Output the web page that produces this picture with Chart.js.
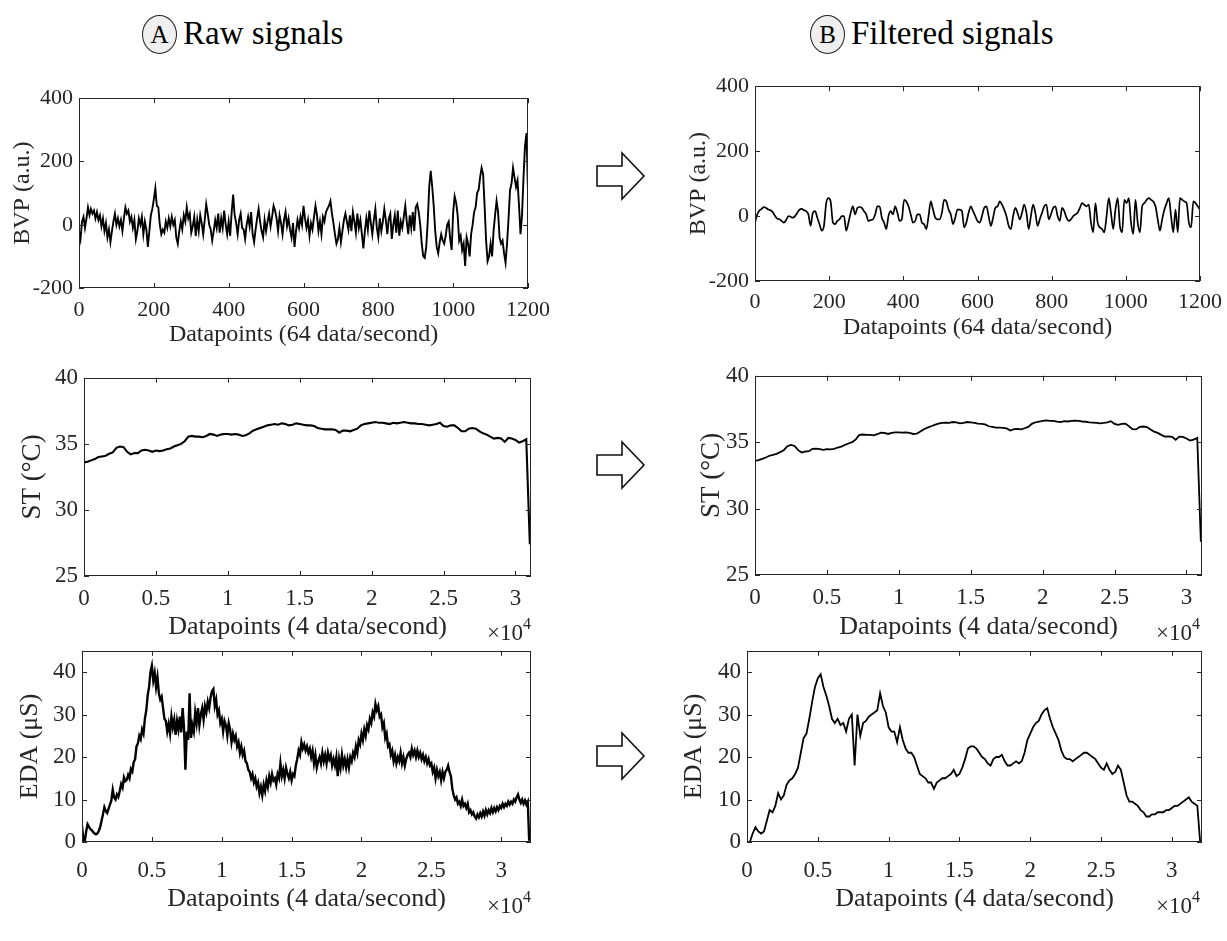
<!DOCTYPE html>
<html>
<head>
<meta charset="utf-8">
<script src="https://cdn.jsdelivr.net/npm/chart.js@4.4.0/dist/chart.umd.min.js"></script>
<style>
  body { margin: 0; background: #fff; width: 1227px; height: 941px; position: relative; overflow: hidden;
         font-family: "Liberation Serif", "Times New Roman", serif; color: #000; }
  canvas { position: absolute; }
  .head { position: absolute; font-size: 33px; line-height: 40px; white-space: nowrap; }
  .badge { display: inline-block; width: 33px; height: 37px; border: 1.5px solid #222; border-radius: 50%;
           background: #efefef; font-size: 25px; line-height: 37px; text-align: center; vertical-align: 1px;
           margin-right: 6px; }
  .mult { position: absolute; font-size: 23px; color: #262626; white-space: nowrap; }
  .mult sup { font-size: 16px; position: relative; top: -2px; }
  svg.arrow { position: absolute; }
</style>
</head>
<body>
<div class="head" style="left:142px; top:13px;"><span class="badge">A</span>Raw signals</div>
<div class="head" style="left:810px; top:13px;"><span class="badge">B</span>Filtered signals</div>

<svg class="arrow" style="left:594px; top:150px" width="56" height="54"><path d="M3 16 H28 V3 L50 26 L28 49 V36 H3 Z" fill="#fff" stroke="#111" stroke-width="1.6"/></svg>
<svg class="arrow" style="left:594px; top:439px" width="56" height="54"><path d="M3 16 H28 V3 L50 26 L28 49 V36 H3 Z" fill="#fff" stroke="#111" stroke-width="1.6"/></svg>
<svg class="arrow" style="left:594px; top:730px" width="56" height="54"><path d="M3 16 H28 V3 L50 26 L28 49 V36 H3 Z" fill="#fff" stroke="#111" stroke-width="1.6"/></svg>

<canvas id="bvpA"></canvas>
<canvas id="bvpB"></canvas>
<canvas id="stA"></canvas>
<canvas id="stB"></canvas>
<canvas id="edaA"></canvas>
<canvas id="edaB"></canvas>

<div class="mult" style="left:487px; top:617px;">&times;10<sup>4</sup></div>
<div class="mult" style="left:487px; top:890px;">&times;10<sup>4</sup></div>
<div class="mult" style="left:1156px; top:617px;">&times;10<sup>4</sup></div>
<div class="mult" style="left:1156px; top:890px;">&times;10<sup>4</sup></div>

<script>
// BVP raw, 64 Hz, one value every 4 datapoints (0 .. 1200)
const bvpRawStep = 4;
const bvpRaw = [
  -20, -45, 10, 25, -10, 20, 55, 30, 50, 35,
  45, 20, 40, 15, 30, -5, 20, -20, 5, -40,
  -15, -55, -20, 10, 35, 0, 20, -5, 15, -20,
  20, 55, 35, 45, 10, 25, -10, 15, -45, -20,
  20, 0, 25, -30, 10, -15, -70, -20, 30, 50,
  80, 115, 60, 55, 0, -30, -15, -25, 10, -10,
  20, -5, 25, 0, 15, -40, -60, -20, 10, -15,
  30, 10, 55, 20, 35, -25, -5, 25, -35, 15,
  -20, 30, 5, -30, 15, 65, 35, 0, -15, -50,
  -20, 15, -10, 35, -25, 20, -10, 45, 0, -30,
  10, -35, 40, 95, 30, 5, -30, 15, 35, -10,
  -15, -45, 0, 25, -5, 40, -30, -55, -15, 20,
  50, 10, -20, -40, 15, -20, 10, 35, -5, 25,
  60, 45, 20, -20, 30, 5, -30, 15, 40, -5,
  20, -15, -40, 5, -70, -20, 15, -10, 25, 0,
  60, 20, -10, 15, -35, 5, -15, 25, 60, 30,
  -20, 10, -30, 25, 10, 40, 50, 60, 75, 35,
  5, -30, -60, -45, -10, -55, -20, 15, 35, 10,
  -15, 30, -20, 40, 10, -25, 35, -10, 15, -30,
  -75, -20, 20, -15, 45, 5, -30, 15, 50, -10,
  -40, 20, -20, 10, 50, 15, -30, 20, 35, -45,
  0, 30, -25, 45, -35, 10, -10, 25, 60, 10,
  -30, 30, -10, 40, -20, 55, 65, 40, 0, -60,
  -100, -105, -70, 10, 120, 170, 120, 60, -20, -70,
  -90, -55, -30, -50, -60, -35, 0, 10, -45, -80,
  40, 90, 70, 30, -50, -35, -80, -60, -130, -40,
  -60, -100, -30, 0, 40, 55, 100, 110, 150, 180,
  160, 60, -50, -115, -100, -60, -100, -20, 30, 75,
  40, -40, -60, -50, -90, -120, -60, 20, 110, 130,
  180, 150, 120, 140, 60, -30, 30, 150, 250, 290,
  100
];
// BVP filtered, one value every 6 datapoints (0 .. 1200)
const bvpFiltStep = 6;
const bvpFiltered = [
  -20, 5, 17, 22, 28, 25, 20, 18, 12, 0,
  -8, -10, -15, -20, -12, 0, -2, -5, 0, 10,
  20, 22, 18, 15, 5, -30, 10, 15, -5, -25,
  -45, -30, 40, 55, 45, -20, -25, -15, -10, 0,
  0, -45, -20, 10, 30, 5, 25, 28, 25, 15,
  5, -15, -12, -10, 5, 30, 30, -5, -20, -40,
  0, 15, 5, 30, 10, -15, -10, 50, 45, 30,
  5, -20, -15, 5, 5, -20, -25, -40, 0, 45,
  20, -5, -10, -10, 10, 50, 45, 20, 5, -25,
  -5, 20, 20, 15, -35, -20, 10, 30, 15, 0,
  -15, -20, 0, 25, 30, 0, -30, -5, 25, 30,
  45, 35, 20, 0, -30, -40, 0, 25, 10, -10,
  10, 35, 10, -40, 0, 35, 10, -30, -10, 10,
  30, 35, -10, 5, 25, 30, 0, -15, 25, 15,
  -5, -15, -10, 0, 5, 10, 25, 40, 35, 30,
  35, -20, -50, 40, -20, -35, -40, -50, 0, 55,
  10, -40, 20, 55, -30, -50, 50, 40, 55, -20,
  -55, 50, -20, -50, 30, 40, 50, 55, 50, 45,
  30, -10, -45, -10, 20, 40, 55, 0, -50, 20,
  -50, 55, 50, 45, 40, -20, -35, 45, 40, 30,
  20
];
const bvpXTicks = [0, 200, 400, 600, 800, 1000, 1200];
const bvpYTicks = [-200, 0, 200, 400];

// Skin temperature, 4 Hz, one value every 250 datapoints (0 .. 31000)
const stStep = 250;
const stRaw = [
  33.6, 33.65, 33.75, 33.85, 34.0, 34.05, 34.1, 34.25, 34.35, 34.7,
  34.8, 34.75, 34.4, 34.2, 34.3, 34.3, 34.5, 34.55, 34.5, 34.4,
  34.5, 34.45, 34.5, 34.6, 34.65, 34.8, 34.9, 35.0, 35.2, 35.55,
  35.6, 35.55, 35.55, 35.5, 35.6, 35.75, 35.7, 35.6, 35.7, 35.75,
  35.75, 35.7, 35.75, 35.7, 35.6, 35.65, 35.8, 36.0, 36.1, 36.2,
  36.3, 36.4, 36.45, 36.5, 36.45, 36.55, 36.5, 36.4, 36.45, 36.55,
  36.5, 36.45, 36.4, 36.4, 36.35, 36.2, 36.15, 36.1, 36.1, 36.1,
  36.05, 35.85, 36.0, 36.0, 35.95, 36.05, 36.15, 36.4, 36.5, 36.55,
  36.6, 36.65, 36.6, 36.6, 36.55, 36.5, 36.6, 36.55, 36.6, 36.65,
  36.6, 36.55, 36.55, 36.5, 36.5, 36.45, 36.4, 36.45, 36.5, 36.6,
  36.35, 36.3, 36.4, 36.4, 36.2, 35.95, 35.95, 36.15, 36.2, 36.15,
  35.95, 35.8, 35.7, 35.55, 35.4, 35.45, 35.4, 35.15, 35.45, 35.4,
  35.3, 35.1, 35.2, 35.35, 27.4
];
const stFiltered = [
  33.6, 33.65, 33.75, 33.85, 33.98, 34.05, 34.12, 34.25, 34.4, 34.7,
  34.8, 34.72, 34.4, 34.22, 34.3, 34.32, 34.5, 34.52, 34.48, 34.42,
  34.48, 34.46, 34.5, 34.6, 34.66, 34.8, 34.9, 35.0, 35.2, 35.55,
  35.58, 35.55, 35.55, 35.52, 35.6, 35.72, 35.7, 35.62, 35.7, 35.74,
  35.74, 35.72, 35.74, 35.7, 35.62, 35.65, 35.8, 35.98, 36.1, 36.2,
  36.3, 36.4, 36.45, 36.48, 36.45, 36.52, 36.5, 36.42, 36.45, 36.52,
  36.5, 36.45, 36.4, 36.38, 36.34, 36.2, 36.15, 36.1, 36.1, 36.08,
  36.04, 35.88, 35.98, 36.0, 35.96, 36.05, 36.15, 36.38, 36.5, 36.55,
  36.6, 36.64, 36.6, 36.6, 36.55, 36.52, 36.58, 36.56, 36.6, 36.62,
  36.6, 36.56, 36.54, 36.5, 36.48, 36.45, 36.42, 36.45, 36.5, 36.58,
  36.38, 36.3, 36.38, 36.4, 36.2, 35.98, 35.96, 36.15, 36.18, 36.14,
  35.95, 35.8, 35.7, 35.55, 35.42, 35.44, 35.4, 35.18, 35.42, 35.4,
  35.28, 35.12, 35.2, 35.32, 27.5
];
const stXTicks = [0, 5000, 10000, 15000, 20000, 25000, 30000];
const stYTicks = [25, 30, 35, 40];

// EDA raw, 4 Hz, one value every 100 datapoints (0 .. 32000)
const edaRawStep = 100;
const edaRaw = [
  3.8, 0.5, 0.2, 2.5, 4.2, 3.6, 3.0, 2.8, 2.3, 2.0,
  1.8, 2.0, 2.6, 3.5, 5.0, 6.5, 8.2, 7.3, 6.8, 7.8,
  8.8, 9.8, 12.3, 10.5, 10.0, 11.2, 10.6, 12.0, 13.6, 12.8,
  15.2, 14.3, 14.6, 15.8, 15.0, 17.2, 16.6, 18.8, 19.5, 22.5,
  23.2, 25.0, 24.2, 26.5, 25.5, 29.0, 31.0, 34.5, 36.5, 40.0,
  41.5, 38.0, 39.8, 36.5, 38.8, 35.0, 33.5, 34.2, 31.5, 29.0,
  28.5, 26.0, 27.8, 25.5, 29.5, 27.0, 28.8, 25.2, 28.5, 26.5,
  29.5, 25.8, 31.5, 27.0, 17.0, 26.0, 24.0, 35.0, 24.5, 27.5,
  26.0, 30.5, 28.0, 31.5, 27.5, 30.0, 31.5, 28.8, 32.0, 30.5,
  33.0, 31.5, 34.0, 35.5, 36.0, 32.0, 33.5, 30.0, 31.0, 28.0,
  29.0, 26.0, 28.5, 27.5, 25.0, 28.0, 26.5, 23.5, 25.5, 24.0,
  25.0, 22.5, 23.5, 21.0, 22.5, 20.5, 21.5, 19.0, 18.5, 17.0,
  16.5, 15.0, 16.0, 14.0, 15.0, 13.0, 14.0, 11.5, 13.0, 11.0,
  13.5, 12.0, 14.5, 13.0, 15.5, 14.0, 16.0, 14.5, 15.0, 13.5,
  16.0, 15.0, 18.5, 15.5, 17.0, 15.0, 17.5, 16.0, 15.0, 16.5,
  14.5, 16.0, 15.5, 18.0, 19.5, 21.5, 20.5, 23.5, 22.0, 23.0,
  21.5, 22.5, 21.0, 22.0, 20.0, 21.5, 18.5, 20.5, 17.5, 19.0,
  20.0, 18.5, 21.0, 19.0, 20.5, 18.5, 21.0, 19.5, 20.5, 18.0,
  19.5, 18.0, 20.0, 15.5, 19.5, 17.5, 20.5, 18.0, 19.5, 17.5,
  19.5, 17.5, 20.0, 19.0, 21.0, 20.0, 22.5, 21.0, 24.0, 23.0,
  25.5, 24.0, 26.5, 25.0, 27.5, 26.5, 29.0, 28.0, 30.5, 29.5,
  32.5, 31.0, 32.0, 29.5, 30.0, 27.0, 28.0, 24.5, 25.5, 22.5,
  23.0, 20.5, 21.5, 19.0, 20.5, 18.5, 20.0, 19.0, 21.0, 18.5,
  20.0, 18.0, 19.5, 20.5, 21.0, 20.0, 22.0, 20.5, 21.5, 20.0,
  21.5, 20.0, 21.0, 19.5, 20.5, 19.0, 20.0, 18.5, 19.5, 18.0,
  18.5, 16.5, 17.5, 15.0, 17.0, 15.5, 16.5, 14.5, 16.5, 15.0,
  16.5, 17.0, 18.0, 16.5, 15.5, 12.5, 11.0, 10.0, 10.5, 9.0,
  9.5, 8.5, 10.0, 8.5, 9.0, 8.0, 9.0, 7.0, 7.5, 6.5,
  7.0, 6.0, 5.5, 6.5, 5.8, 6.8, 6.0, 7.2, 6.2, 7.5,
  6.5, 7.5, 6.8, 8.0, 7.0, 8.0, 7.2, 8.2, 7.5, 8.5,
  8.0, 9.0, 8.2, 9.0, 8.5, 9.5, 8.8, 9.5, 9.0, 10.0,
  9.5, 10.5, 11.2, 10.0, 9.2, 10.0, 9.0, 9.8, 8.8, 9.5,
  0.3
];
// EDA filtered, one value every 200 datapoints (0 .. 32000)
const edaFiltStep = 200;
const edaFiltered = [
  0, 0, 2, 3.5, 2.5, 2.0, 2.5, 5.0, 7.5, 7.0,
  8.5, 11.5, 10.0, 11.0, 13.5, 14.5, 15.0, 16.0, 17.5, 21.0,
  24.5, 25.5, 29.0, 33.0, 36.5, 38.5, 39.5, 36.5, 34.5, 32.0,
  29.0, 28.0, 29.0, 27.5, 28.0, 26.0, 29.0, 30.0, 18.0, 30.0,
  25.0, 28.0, 28.5, 29.5, 30.0, 30.5, 31.0, 35.0, 32.0, 30.5,
  27.0, 26.0, 26.0, 23.5, 27.0, 24.0, 22.0, 21.0, 21.0, 20.0,
  18.0, 16.0, 15.5, 15.0, 14.0, 14.0, 12.5, 14.0, 14.5, 15.0,
  15.0, 15.5, 16.0, 17.0, 15.5, 16.0, 17.5, 19.5, 22.0, 22.5,
  22.5, 22.0, 21.0, 20.0, 19.5, 18.5, 18.0, 19.5, 20.0, 20.0,
  20.5, 19.0, 18.0, 18.0, 18.5, 19.0, 18.5, 19.0, 21.0, 24.0,
  25.5, 27.0, 28.0, 28.5, 30.0, 31.0, 31.5, 29.0, 27.0, 25.5,
  24.0, 21.5, 20.0, 19.5, 19.5, 19.0, 19.5, 20.0, 20.5, 21.0,
  21.0, 20.5, 20.0, 19.5, 18.5, 17.5, 17.0, 18.5, 17.0, 16.0,
  16.5, 18.0, 17.0, 14.0, 11.0, 9.5, 9.5, 9.0, 8.5, 7.5,
  7.0, 6.0, 6.0, 6.5, 6.5, 7.0, 7.0, 7.0, 7.5, 7.5,
  8.0, 8.5, 8.5, 9.0, 9.5, 10.0, 10.5, 9.5, 9.0, 8.5,
  0
];
const edaXTicks = [0, 5000, 10000, 15000, 20000, 25000, 30000];
const edaYTicks = [0, 10, 20, 30, 40];

Chart.defaults.font.family = "'Liberation Serif', 'Times New Roman', serif";
Chart.defaults.color = "#262626";

// box around the plot area with short inward ticks on all four sides
const matlabFrame = {
  id: "matlabFrame",
  afterDatasetsDraw(chart) {
    const { ctx, chartArea: a, scales } = chart;
    const len = 5;
    ctx.save();
    ctx.strokeStyle = "#262626";
    ctx.lineWidth = 1;
    ctx.beginPath();
    scales.x.ticks.forEach(t => {
      const px = Math.round(scales.x.getPixelForValue(t.value)) + 0.5;
      ctx.moveTo(px, a.bottom); ctx.lineTo(px, a.bottom - len);
      ctx.moveTo(px, a.top); ctx.lineTo(px, a.top + len);
    });
    scales.y.ticks.forEach(t => {
      const py = Math.round(scales.y.getPixelForValue(t.value)) + 0.5;
      ctx.moveTo(a.left, py); ctx.lineTo(a.left + len, py);
      ctx.moveTo(a.right, py); ctx.lineTo(a.right - len, py);
    });
    ctx.stroke();
    ctx.strokeRect(Math.round(a.left) + 0.5, Math.round(a.top) + 0.5,
                   Math.round(a.width) - 1, Math.round(a.height) - 1);
    ctx.restore();
  }
};

function makePanel(id, p) {
  const padTop = 15, padRight = 34;
  const canvas = document.getElementById(id);
  const w = (p.right - p.left) + p.yW + padRight;
  const h = (p.bottom - p.top) + padTop + p.xH;
  canvas.width = w; canvas.height = h;
  canvas.style.left = (p.left - p.yW) + "px";
  canvas.style.top = (p.top - padTop) + "px";
  canvas.style.width = w + "px"; canvas.style.height = h + "px";

  const pts = p.values.map((v, i) => ({ x: i * p.step, y: v }));
  new Chart(canvas.getContext("2d"), {
    type: "line",
    data: {
      datasets: [{
        data: pts,
        borderColor: "#000",
        borderWidth: p.lineWidth,
        pointRadius: 0,
        tension: p.smooth ? 0.4 : 0,
        cubicInterpolationMode: p.smooth ? "monotone" : "default",
        fill: false
      }]
    },
    options: {
      responsive: false,
      animation: false,
      devicePixelRatio: 1,
      layout: { padding: { top: padTop, right: padRight, left: 0, bottom: 0 } },
      plugins: { legend: { display: false }, tooltip: { enabled: false } },
      scales: {
        x: {
          type: "linear",
          min: p.xMin, max: p.xMax,
          afterBuildTicks: s => { s.ticks = p.xTicks.map(v => ({ value: v })); },
          afterFit: s => { s.height = p.xH; },
          grid: { display: false, drawTicks: false },
          border: { display: false },
          ticks: {
            padding: p.xPad,
            maxRotation: 0,
            autoSkip: false,
            font: { size: p.tickSize },
            callback: p.xFormat || (v => String(v))
          },
          title: { display: true, text: p.xTitle, padding: 0, font: { size: p.xTitleSize } }
        },
        y: {
          type: "linear",
          min: p.yMin, max: p.yMax,
          afterBuildTicks: s => { s.ticks = p.yTicks.map(v => ({ value: v })); },
          afterFit: s => { s.width = p.yW; },
          grid: { display: false, drawTicks: false },
          border: { display: false },
          ticks: { padding: 6, font: { size: p.tickSize }, callback: v => String(v) },
          title: { display: true, text: p.yTitle, padding: 0, font: { size: p.yTitleSize } }
        }
      }
    },
    plugins: [matlabFrame]
  });
}

const tenThousands = v => String(v / 10000);

makePanel("bvpA", {
  left: 79, right: 528, top: 94, bottom: 288, yW: 71, xH: 61, xPad: 9,
  values: bvpRaw, step: bvpRawStep, lineWidth: 1.9,
  xMin: 0, xMax: 1200, yMin: -200, yMax: 400, xTicks: bvpXTicks, yTicks: bvpYTicks,
  tickSize: 22, xTitle: "Datapoints (64 data/second)", xTitleSize: 24,
  yTitle: "BVP (a.u.)", yTitleSize: 24
});
makePanel("bvpB", {
  left: 755, right: 1200, top: 82, bottom: 281, yW: 71, xH: 61, xPad: 8,
  values: bvpFiltered, step: bvpFiltStep, lineWidth: 1.7, smooth: true,
  xMin: 0, xMax: 1200, yMin: -200, yMax: 400, xTicks: bvpXTicks, yTicks: bvpYTicks,
  tickSize: 22, xTitle: "Datapoints (64 data/second)", xTitleSize: 24,
  yTitle: "BVP (a.u.)", yTitleSize: 24
});
makePanel("stA", {
  left: 84, right: 531, top: 373, bottom: 576, yW: 67, xH: 67, xPad: 9,
  values: stRaw, step: stStep, lineWidth: 2.1,
  xMin: 0, xMax: 31080, yMin: 25, yMax: 40, xTicks: stXTicks, yTicks: stYTicks,
  tickSize: 23, xTitle: "Datapoints (4 data/second)", xTitleSize: 26, xFormat: tenThousands,
  yTitle: "ST (°C)", yTitleSize: 27
});
makePanel("stB", {
  left: 755, right: 1202, top: 371, bottom: 575, yW: 59, xH: 68, xPad: 9,
  values: stFiltered, step: stStep, lineWidth: 1.8,
  xMin: 0, xMax: 31080, yMin: 25, yMax: 40, xTicks: stXTicks, yTicks: stYTicks,
  tickSize: 23, xTitle: "Datapoints (4 data/second)", xTitleSize: 26, xFormat: tenThousands,
  yTitle: "ST (°C)", yTitleSize: 27
});
makePanel("edaA", {
  left: 82, right: 531, top: 646, bottom: 842, yW: 67, xH: 73, xPad: 15,
  values: edaRaw, step: edaRawStep, lineWidth: 2.4,
  xMin: 0, xMax: 32130, yMin: 0, yMax: 45, xTicks: edaXTicks, yTicks: edaYTicks,
  tickSize: 23, xTitle: "Datapoints (4 data/second)", xTitleSize: 26, xFormat: tenThousands,
  yTitle: "EDA (μS)", yTitleSize: 26
});
makePanel("edaB", {
  left: 747, right: 1202, top: 646, bottom: 842, yW: 68, xH: 73, xPad: 15,
  values: edaFiltered, step: edaFiltStep, lineWidth: 1.8,
  xMin: 0, xMax: 32130, yMin: 0, yMax: 45, xTicks: edaXTicks, yTicks: edaYTicks,
  tickSize: 23, xTitle: "Datapoints (4 data/second)", xTitleSize: 26, xFormat: tenThousands,
  yTitle: "EDA (μS)", yTitleSize: 26
});
</script>
</body>
</html>
